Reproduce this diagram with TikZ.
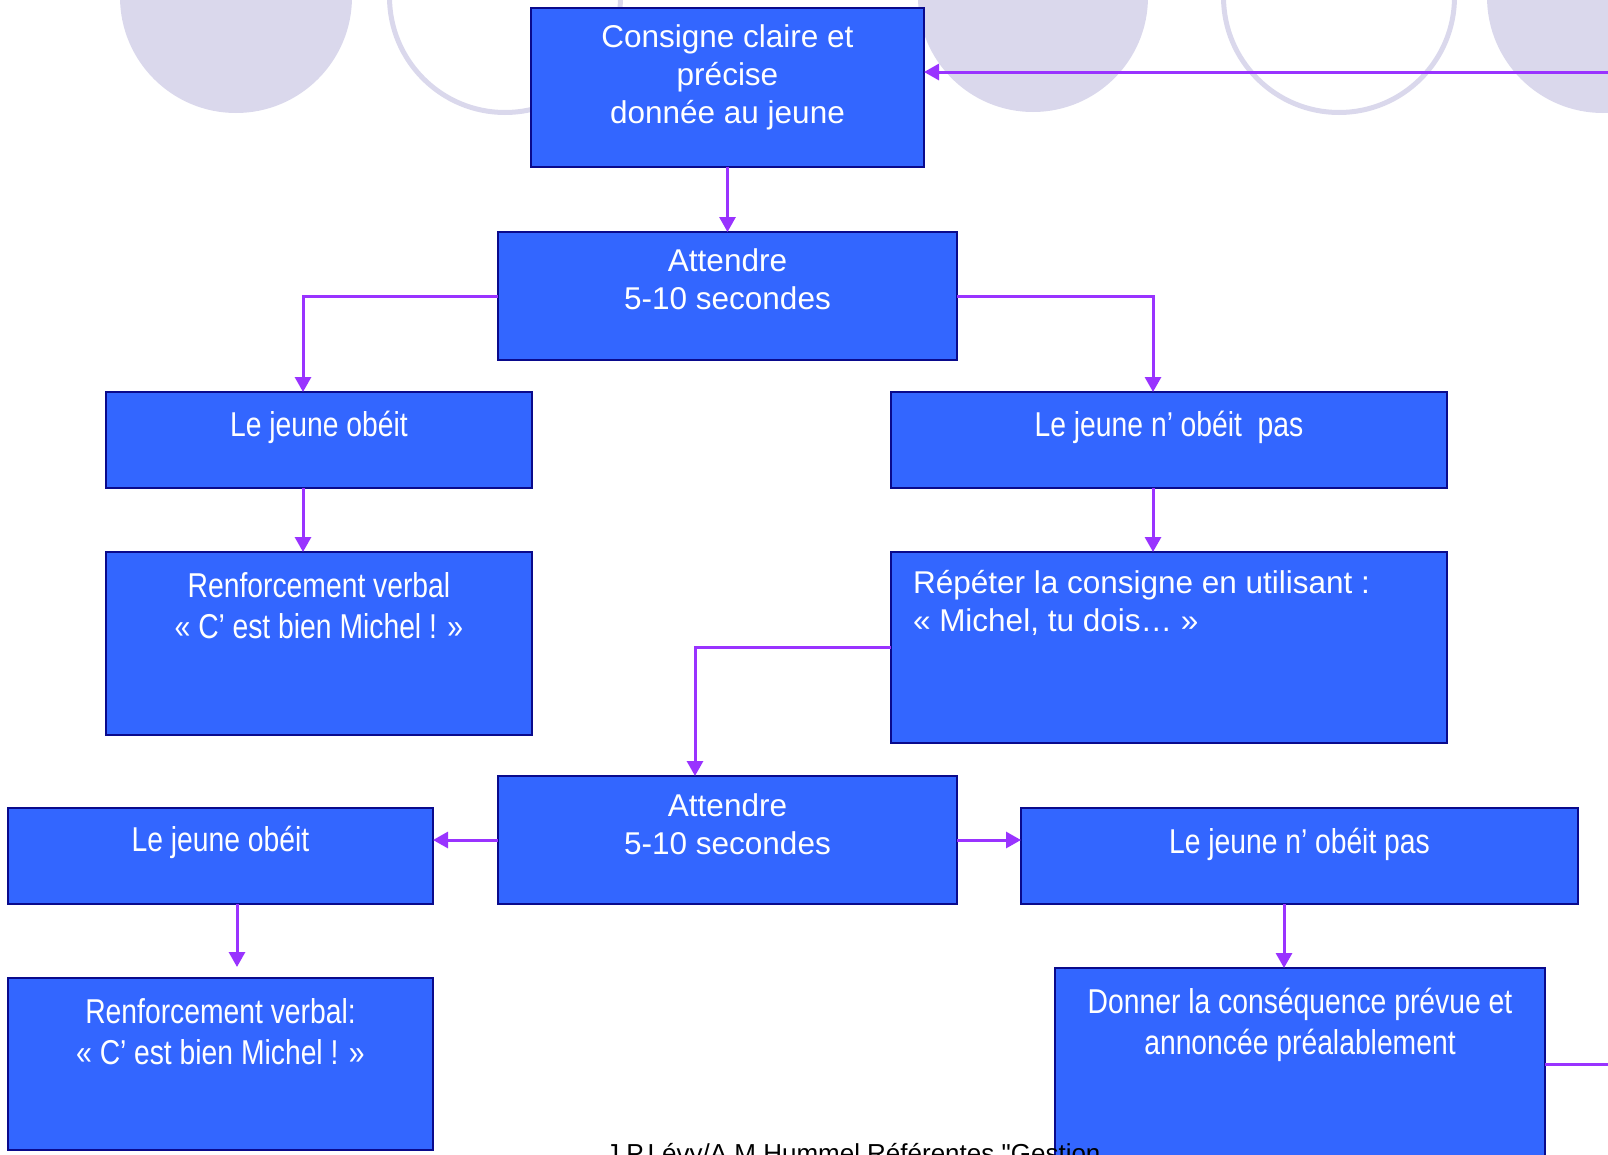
\documentclass[tikz,border=0pt]{standalone}
\usepackage{fontspec}
\setmainfont{Liberation Sans}
\newfontfamily\narrowfam[FakeStretch=0.82]{Liberation Sans}
\newfontfamily\plainfam[Ligatures=TeXOff]{Liberation Sans}
\usetikzlibrary{arrows.meta,calc}
\definecolor{boxfill}{RGB}{51,102,255}
\definecolor{boxline}{RGB}{10,10,140}
\definecolor{conncol}{RGB}{153,51,255}
\definecolor{circ}{RGB}{218,216,236}
\newcommand{\txtN}{\fontsize{31.5pt}{38pt}\selectfont}
\newcommand{\txtC}{\narrowfam\fontsize{34.5pt}{41pt}\selectfont}
\newcommand{\bxt}[5]{\parbox[t][#2pt][t]{#1pt}{#3\rule{0pt}{#4pt}#5}}
\begin{document}
\begin{tikzpicture}[x=1pt,y=-1pt,
  fc/.style={draw=boxline, fill=boxfill, line width=2.5pt, inner sep=0pt, outer sep=0pt, anchor=north west, text=white},
  conn/.style={draw=conncol, line width=3pt},
  arr/.style={conn, -{Triangle[length=15pt,width=16pt]}},
  bgfill/.style={fill=circ},
  bgring/.style={draw=circ, line width=5pt}]
\useasboundingbox (0,0) rectangle (1608,1154);
% background circles
\fill[bgfill] (236,-3) circle[radius=116pt];
\draw[bgring] (505,-3) circle[radius=115.5pt];
\fill[bgfill] (1033,-3) circle[radius=115pt];
\draw[bgring] (1339,-3) circle[radius=115.5pt];
\fill[bgfill] (1603,-3) circle[radius=116pt];
% boxes
\node[fc] (b1) at (531,8) {\bxt{393}{159}{\centering\txtN}{39}{Consigne claire et\\précise\\donnée au jeune}};
\node[fc] (b2) at (498,232) {\bxt{459}{128}{\centering\txtN}{39}{Attendre\\5-10 secondes}};
\node[fc] (b3) at (106,392) {\bxt{426}{96}{\centering\txtC}{44}{Le jeune obéit}};
\node[fc] (b4) at (891,392) {\bxt{556}{96}{\centering\txtC}{44}{Le jeune n’\kern.22em obéit~ pas}};
\node[fc] (b5) at (106,552) {\bxt{426}{183}{\centering\txtC}{45}{Renforcement verbal\\« C’\kern.22em est bien Michel ! »}};
\node[fc] (b6) at (891,552) {\bxt{556}{191}{\raggedright\leftskip=22pt\txtN}{41}{Répéter la consigne en utilisant :\\« Michel, tu dois… »}};
\node[fc] (b7) at (498,776) {\bxt{459}{128}{\centering\txtN}{40}{Attendre\\5-10 secondes}};
\node[fc] (b8) at (8,808) {\bxt{425}{96}{\centering\txtC}{43}{Le jeune obéit}};
\node[fc] (b9) at (1021,808) {\bxt{557}{96}{\centering\txtC}{45}{Le jeune n’\kern.22em obéit pas}};
\node[fc] (b10) at (8,978) {\bxt{425}{172}{\centering\txtC}{45}{Renforcement verbal:\\« C’\kern.22em est bien Michel ! »}};
\node[fc] (b11) at (1055,968) {\bxt{490}{220}{\centering\txtC}{45}{Donner la conséquence prévue et\\annoncée préalablement}};
% edge coordinates
\coordinate (rt1) at (1612,72);
\coordinate (rt2) at (1612,1064);
% connectors
\draw[arr] (b1.south) -- (b2.north);
\draw[arr] (b2.west) -| ($(b3.north west)+(197,0)$);
\draw[arr] (b2.east) -| ($(b4.north west)+(262,0)$);
\draw[arr] ($(b3.south west)+(197,0)$) -- ($(b5.north west)+(197,0)$);
\draw[arr] ($(b4.south west)+(262,0)$) -- ($(b6.north west)+(262,0)$);
\draw[arr] (b6.west) -| ($(b7.north west)+(197,0)$);
\draw[arr] (b7.west) -- (b7.west -| b8.east);
\draw[arr] (b7.east) -- (b7.east -| b9.west);
\draw[arr, shorten >=11pt] ($(b8.south west)+(229,0)$) -- ($(b10.north west)+(229,0)$);
\draw[arr] ($(b9.south west)+(263,0)$) -- ($(b11.north west)+(229,0)$);
\draw[conn] (b11.east |- rt2) -- (rt2);
\draw[arr] (rt1) -- (rt1 -| b1.east);
% footer
\node[anchor=base west, inner sep=0pt, font=\plainfam\fontsize{26pt}{30pt}\selectfont, text=black] (foot) at (606,1162) {J.P.Lévy/A.M.Hummel Référentes "Gestion};
\end{tikzpicture}
\end{document}
